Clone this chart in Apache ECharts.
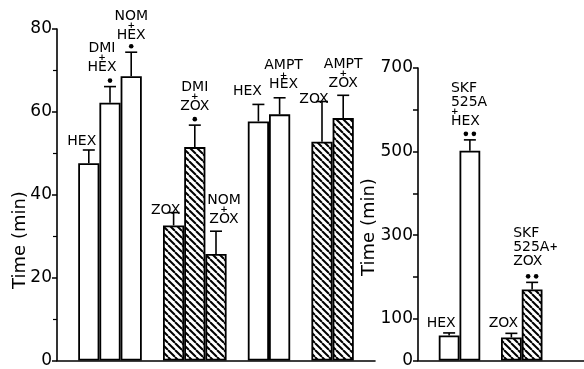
<!DOCTYPE html>
<html><head><meta charset="utf-8">
<script src="https://cdn.jsdelivr.net/npm/echarts@6/dist/echarts.min.js"></script>
<style>html,body{margin:0;padding:0;background:#fff}#c{width:584px;height:369px}</style>
</head><body><div id="c"></div>
<script>
// ---- data ----
const leftCategories = ['', 'HEX', 'DMI+HEX', 'NOM+HEX', '', 'ZOX', 'DMI+ZOX', 'NOM+ZOX', '', 'HEX', 'AMPT+HEX', '', 'ZOX', 'AMPT+ZOX', ''];
const leftValues = [null, 47.6, 62.2, 68.6, null, 32.6, 51.5, 25.7, null, 57.7, 59.4, null, 52.8, 58.5, null];
const leftErrTop = [null, 50.8, 66.1, 74.4, null, 35.7, 56.8, 31.2, null, 61.8, 63.4, null, 62.5, 64.0, null];
const leftHatched = [0, 0, 0, 0, 0, 1, 1, 1, 0, 0, 0, 0, 1, 1, 0];
const leftLabels = [null, ['HEX'], ['DMI', '+', 'HEX'], ['NOM', '+', 'HEX'], null, ['ZOX'], ['DMI', '+', 'ZOX'], ['NOM', '+', 'ZOX'], null, ['HEX'], ['AMPT', '+', 'HEX'], null, ['ZOX'], ['AMPT', '+', 'ZOX'], null];
const leftSig = [0, 0, 1, 1, 0, 0, 1, 0, 0, 0, 0, 0, 0, 0, 0];
const leftTicks = [0, 20, 40, 60, 80];

const rightCategories = ['', 'HEX', 'SKF 525A+HEX', '', 'ZOX', 'SKF 525A+ZOX', '', ''];
const rightValues = [null, 60, 502, null, 55, 170, null, null];
const rightErrTop = [null, 66, 528, null, 65, 187, null, null];
const rightHatched = [0, 0, 0, 0, 1, 1, 0, 0];
const rightLabels = [null, ['HEX'], ['SKF', '525A', '+', 'HEX'], null, ['ZOX'], ['SKF', '525A +', 'ZOX'], null, null];
const rightSig = [0, 0, 2, 0, 0, 2, 0, 0];
const rightTickLabels = [0, 100, 300, 500, 700];

const axisTitle = 'Time (min)';

// ---- layout nudges for bar labels (dx, dy, align) ----
const leftNudge = [null, [-7, 0], [-8, 0], [0, 2], null, [-8, 7], [0, 0], [8, -3], null, [-11, -4], [4, -4], null, [-8, 7], [0, -3], null];
const rightNudge = [null, [-8, -1], [-19, 0, 'left'], null, [-8, -1], [-19, -2, 'left'], null, null];

const FONT = 'DejaVu Sans';

// hatch pattern
const hatch = document.createElement('canvas');
const S = 7;
hatch.width = S; hatch.height = S;
(function () {
  const c = hatch.getContext('2d');
  c.fillStyle = '#fff'; c.fillRect(0, 0, S, S);
  c.strokeStyle = '#000'; c.lineWidth = 2;
  for (let k = -1; k <= 1; k++) {
    c.beginPath(); c.moveTo(k * S, 0); c.lineTo(k * S + S, S); c.stroke();
  }
})();
const hatchFill = { image: hatch, repeat: 'repeat' };

function barSeries(idx, values, hatched) {
  return {
    type: 'bar', xAxisIndex: idx, yAxisIndex: idx,
    barWidth: '100%', barCategoryGap: 0,
    data: values.map((v, i) => v == null ? '-' : {
      value: v,
      itemStyle: { color: hatched[i] ? hatchFill : '#fff', borderColor: '#000', borderWidth: 1.8 }
    }),
    animation: false, z: 2
  };
}

function richText(lines) {
  return lines.map(l => {
    if (l === '+') return '{p|+}';
    if (/ \+$/.test(l)) return '{a|' + l.slice(0, -2) + '}{q|+}';
    return '{a|' + l + '}';
  }).join('\n');
}

function errSeries(idx, values, errs, labels, sig, nudge) {
  const data = [];
  values.forEach((v, i) => { if (v != null) data.push([i, v, errs[i]]); });
  return {
    type: 'custom', xAxisIndex: idx, yAxisIndex: idx, clip: false, z: 5, animation: false,
    encode: { x: 0, y: [1, 2] },
    data: data,
    renderItem: function (params, api) {
      const i = api.value(0);
      const b = api.coord([i, api.value(1)]);
      const t = api.coord([i, api.value(2)]);
      const x = b[0], cy = t[1];
      const ch = [
        { type: 'line', shape: { x1: x, y1: b[1], x2: x, y2: cy }, style: { stroke: '#000', lineWidth: 1.6 } },
        { type: 'line', shape: { x1: x - 6, y1: cy, x2: x + 6, y2: cy }, style: { stroke: '#000', lineWidth: 1.6 } }
      ];
      const s = sig[i];
      if (s === 1) ch.push({ type: 'circle', shape: { cx: x, cy: cy - 6, r: 2.3 }, style: { fill: '#000' } });
      if (s === 2) {
        ch.push({ type: 'circle', shape: { cx: x - 4, cy: cy - 6, r: 2.3 }, style: { fill: '#000' } });
        ch.push({ type: 'circle', shape: { cx: x + 4, cy: cy - 6, r: 2.3 }, style: { fill: '#000' } });
      }
      const n = nudge[i] || [0, 0];
      const bottom = cy - (s ? 12 : 2) + n[1];
      ch.push({
        type: 'text', x: x + n[0], y: bottom,
        style: {
          text: richText(labels[i]),
          align: n[2] || 'center', verticalAlign: 'bottom',
          fill: '#000', fontFamily: FONT, fontSize: 14,
          rich: {
            a: { fontSize: 14, lineHeight: 14, fontFamily: FONT, fill: '#000' },
            p: { fontSize: 9, lineHeight: 5, fontWeight: 'bold', fontFamily: FONT, fill: '#000' },
            q: { fontSize: 10, lineHeight: 14, fontWeight: 'bold', fontFamily: FONT, fill: '#000' }
          }
        }
      });
      return { type: 'group', children: ch };
    }
  };
}

const axisLineStyle = { show: true, lineStyle: { color: '#000', width: 1.6 } };

const chart = echarts.init(document.getElementById('c'), null, { renderer: 'canvas' });
chart.setOption({
  backgroundColor: '#fff',
  animation: false,
  textStyle: { fontFamily: FONT },
  grid: [
    { left: 57, top: 29, width: 318, bottom: 2, containLabel: false },
    { left: 418, top: 68, right: 0, bottom: 5, containLabel: false }
  ],
  xAxis: [
    { type: 'category', gridIndex: 0, data: leftCategories, axisLine: axisLineStyle, axisTick: { show: false }, axisLabel: { show: false } },
    { type: 'category', gridIndex: 1, data: rightCategories, axisLine: axisLineStyle, axisTick: { show: false }, axisLabel: { show: false } }
  ],
  yAxis: [
    {
      type: 'value', gridIndex: 0, min: leftTicks[0], max: leftTicks[leftTicks.length - 1], interval: leftTicks[1] - leftTicks[0],
      axisLine: axisLineStyle, splitLine: { show: false },
      axisTick: { show: true, length: 5, lineStyle: { color: '#000', width: 1.5 } },
      minorTick: { show: true, splitNumber: 2, length: 4, lineStyle: { color: '#000', width: 1.2 } },
      axisLabel: { color: '#000', fontSize: 17, fontFamily: FONT, margin: 5 }
    },
    {
      type: 'value', gridIndex: 1, min: rightTickLabels[0], max: rightTickLabels[rightTickLabels.length - 1], interval: 100,
      axisLine: axisLineStyle, splitLine: { show: false },
      axisTick: { show: true, length: 5, lineStyle: { color: '#000', width: 1.5 } },
      axisLabel: {
        color: '#000', fontSize: 17, fontFamily: FONT, margin: 5,
        formatter: v => rightTickLabels.indexOf(v) >= 0 ? String(v) : ''
      }
    }
  ],
  graphic: [
    { type: 'text', x: 20, y: 240, rotation: Math.PI / 2, style: { text: axisTitle, fontSize: 18, fontFamily: FONT, fill: '#000', align: 'center', verticalAlign: 'middle' } },
    { type: 'text', x: 369, y: 227, rotation: Math.PI / 2, style: { text: axisTitle, fontSize: 18, fontFamily: FONT, fill: '#000', align: 'center', verticalAlign: 'middle' } }
  ],
  series: [
    barSeries(0, leftValues, leftHatched),
    barSeries(1, rightValues, rightHatched),
    errSeries(0, leftValues, leftErrTop, leftLabels, leftSig, leftNudge),
    errSeries(1, rightValues, rightErrTop, rightLabels, rightSig, rightNudge)
  ]
});
</script>
</body></html>
